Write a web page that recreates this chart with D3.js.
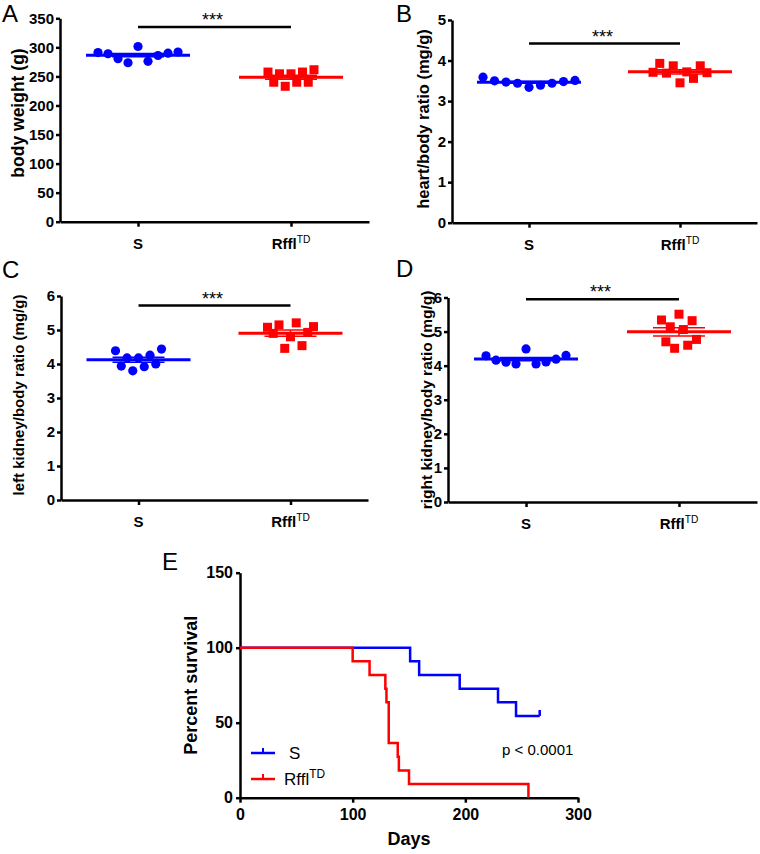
<!DOCTYPE html>
<html>
<head>
<meta charset="utf-8">
<script src="https://cdn.jsdelivr.net/npm/d3@7"></script>
<style>
  html, body { margin: 0; padding: 0; background: #fff; }
  svg { display: block; }
  text { font-family: "Liberation Sans", Arial, sans-serif; }
</style>
</head>
<body>
<svg id="chart" width="760" height="854"></svg>
<script>
// ---------------- DATA ----------------
const categories = ["S", "Rffl"];
const categorySup = ["", "TD"];

const bodyWeightS = [291, 289, 280.5, 273.5, 301.5, 276, 286, 290, 292];
const bodyWeightR = [257.5, 240, 254.5, 233, 254.5, 240, 257.5, 240, 261.5];

const heartRatioS = [3.59, 3.50, 3.47, 3.44, 3.34, 3.39, 3.44, 3.48, 3.51];
const heartRatioR = [3.71, 3.93, 3.69, 3.87, 3.45, 3.72, 3.56, 3.87, 3.70];

const leftKidneyS = [4.39, 3.94, 4.18, 3.80, 4.18, 3.92, 4.26, 4.00, 4.44];
const leftKidneyR = [5.08, 4.90, 5.15, 4.46, 4.80, 5.21, 4.54, 4.93, 5.10];

const rightKidneyS = [4.29, 4.16, 4.10, 4.05, 4.49, 4.05, 4.11, 4.19, 4.30];
const rightKidneyR = [5.34, 4.70, 5.14, 4.51, 5.51, 5.06, 4.60, 5.32, 4.77];

const yTicksA = [0, 50, 100, 150, 200, 250, 300, 350];
const yTicksB = [0, 1, 2, 3, 4, 5];
const yTicksCD = [0, 1, 2, 3, 4, 5, 6];

const sigLevels = [335, 4.42, 5.72, 5.95];   // y value of significance bar per panel
const sigLabel = "***";

// Survival (Kaplan-Meier) steps
const survDaysS = [0, 151, 159, 195, 229, 245, 266];
const survPctS  = [100, 90.9, 81.8, 72.7, 63.6, 54.5, 54.5];
const survDaysR = [0, 100, 115, 129, 130, 132, 140, 141, 150, 256];
const survPctR  = [100, 90.9, 81.8, 72.7, 63.6, 36.4, 27.3, 18.2, 9.1, 0];
const survXTicks = [0, 100, 200, 300];
const survYTicks = [0, 50, 100, 150];
const pValueText = "p < 0.0001";

// ---------------- STYLE ----------------
const BLUE = "#0000ff", RED = "#ff0000";
const FONT = '"Liberation Sans", Arial, sans-serif';
const svg = d3.select("#chart");
svg.append("rect").attr("width", 760).attr("height", 854).attr("fill", "#fff");

function styleAxis(sel, fontSize) {
  sel.select(".domain").attr("stroke", "#000").attr("stroke-width", 2.5);
  sel.selectAll(".tick line").attr("stroke", "#000").attr("stroke-width", 2.5);
  sel.selectAll(".tick text").attr("font-family", FONT).attr("font-weight", "bold")
     .attr("font-size", fontSize).attr("fill", "#000");
}

function catLabel(sel, i) {
  sel.text(categories[i]);
  if (categorySup[i]) {
    sel.append("tspan").attr("dy", "-0.55em").attr("font-size", "0.68em")
       .attr("font-weight", "normal").text(categorySup[i]);
  }
}

function scatterPanel(cfg) {
  const g = svg.append("g");
  const y = d3.scaleLinear()
    .domain([cfg.ticks[0], cfg.ticks[cfg.ticks.length - 1]])
    .range([cfg.yBot, cfg.yTop]);
  const x = d3.scalePoint().domain(categories).range([cfg.x0, cfg.x1]).padding(0.51);

  // y axis
  const ya = g.append("g").attr("transform", `translate(${cfg.x0},0)`)
    .call(d3.axisLeft(y).tickValues(cfg.ticks).tickFormat(d3.format("d"))
      .tickSize(4).tickPadding(2).tickSizeOuter(0));
  styleAxis(ya, 15);

  // x axis
  const xa = g.append("g").attr("transform", `translate(0,${cfg.yBot})`)
    .call(d3.axisBottom(x).tickSize(5).tickSizeOuter(0).tickFormat(""));
  styleAxis(xa, 15);
  categories.forEach((c, i) => {
    g.append("text").attr("x", x(c)).attr("y", cfg.yBot + 27)
      .attr("text-anchor", "middle").attr("font-size", 15).attr("font-weight", "bold")
      .attr("fill", "#000").call(s => catLabel(s, i));
  });

  // y title
  g.append("text")
    .attr("transform", `translate(${cfg.titleX},${cfg.titleY}) rotate(-90)`)
    .attr("text-anchor", "middle").attr("font-size", cfg.titleSize).attr("font-weight", "bold")
    .text(cfg.title);

  // panel letter
  g.append("text").attr("x", cfg.letterX).attr("y", cfg.letterY)
    .attr("font-size", 24).attr("fill", "#000").text(cfg.letter);

  // groups
  [cfg.dataS, cfg.dataR].forEach((arr, gi) => {
    const cat = categories[gi];
    const cx = x(cat);
    const color = gi === 0 ? BLUE : RED;
    const w = cfg.spread[gi];
    const n = arr.length;
    const px = i => cx + (i / (n - 1) - 0.5) * w;
    if (gi === 0) {
      g.selectAll(null).data(arr).enter().append("circle")
        .attr("cx", (d, i) => px(i)).attr("cy", d => y(d)).attr("r", 4.6).attr("fill", color);
    } else {
      g.selectAll(null).data(arr).enter().append("rect")
        .attr("x", (d, i) => px(i) - 4.5).attr("y", d => y(d) - 4.5)
        .attr("width", 9).attr("height", 9).attr("fill", color);
    }
    const m = d3.mean(arr);
    const sem = d3.deviation(arr) / Math.sqrt(n);
    g.append("line").attr("x1", cx - 52).attr("x2", cx + 52)
      .attr("y1", y(m)).attr("y2", y(m)).attr("stroke", color).attr("stroke-width", 3);
    [m - sem, m + sem].forEach(v => {
      g.append("line").attr("x1", cx - 26).attr("x2", cx + 26)
        .attr("y1", y(v)).attr("y2", y(v)).attr("stroke", color).attr("stroke-width", 1.5);
    });
    g.append("line").attr("x1", cx).attr("x2", cx)
      .attr("y1", y(m - sem)).attr("y2", y(m + sem)).attr("stroke", color).attr("stroke-width", 1.5);
  });

  // significance bar
  const sy = y(cfg.sig);
  g.append("line").attr("x1", x(categories[0])).attr("x2", x(categories[1]))
    .attr("y1", sy).attr("y2", sy).attr("stroke", "#000").attr("stroke-width", 2.5);
  g.append("text").attr("x", (x(categories[0]) + x(categories[1])) / 2 - 2).attr("y", sy - 1)
    .attr("text-anchor", "middle").attr("font-size", 18).text(sigLabel);
}

scatterPanel({ letter: "A", letterX: 2, letterY: 22, x0: 60, x1: 369, yTop: 18.3, yBot: 221.7,
  ticks: yTicksA, dataS: bodyWeightS, dataR: bodyWeightR, spread: [80, 46], sig: sigLevels[0],
  title: "body weight (g)", titleX: 24, titleY: 113, titleSize: 17.5 });
scatterPanel({ letter: "B", letterX: 396, letterY: 22, x0: 452, x1: 757, yTop: 20, yBot: 222.7,
  ticks: yTicksB, dataS: heartRatioS, dataR: heartRatioR, spread: [92, 54], sig: sigLevels[1],
  title: "heart/body ratio (mg/g)", titleX: 429, titleY: 119, titleSize: 16.5 });
scatterPanel({ letter: "C", letterX: 2, letterY: 278, x0: 61, x1: 368, yTop: 296, yBot: 500,
  ticks: yTicksCD, dataS: leftKidneyS, dataR: leftKidneyR, spread: [46, 46], sig: sigLevels[2],
  title: "left kidney/body ratio (mg/g)", titleX: 24, titleY: 395, titleSize: 15 });
scatterPanel({ letter: "D", letterX: 396, letterY: 277, x0: 448, x1: 757, yTop: 297.5, yBot: 502,
  ticks: yTicksCD, dataS: rightKidneyS, dataR: rightKidneyR, spread: [80, 35], sig: sigLevels[3],
  title: "right kidney/body ratio (mg/g)", titleX: 432, titleY: 400, titleSize: 15.5 });

// ---------------- PANEL E ----------------
(function () {
  const g = svg.append("g");
  const x = d3.scaleLinear().domain([0, 300]).range([240, 578]);
  const y = d3.scaleLinear().domain([0, 150]).range([797.7, 572.7]);

  const xa = g.append("g").attr("transform", `translate(0,${y(0)})`)
    .call(d3.axisBottom(x).tickValues(survXTicks).tickSize(5).tickPadding(6).tickSizeOuter(0));
  styleAxis(xa, 16);
  const ya = g.append("g").attr("transform", `translate(${x(0)},0)`)
    .call(d3.axisLeft(y).tickValues(survYTicks).tickSize(4).tickPadding(3).tickSizeOuter(0));
  styleAxis(ya, 16);

  g.append("text").attr("x", 409).attr("y", 845).attr("text-anchor", "middle")
    .attr("font-size", 18).attr("font-weight", "bold").text("Days");
  g.append("text").attr("transform", `translate(197,${(y(0) + y(150)) / 2}) rotate(-90)`)
    .attr("text-anchor", "middle").attr("font-size", 18).attr("font-weight", "bold")
    .text("Percent survival");
  g.append("text").attr("x", 162).attr("y", 570).attr("font-size", 24).text("E");

  const line = d3.line().x(d => x(d[0])).y(d => y(d[1])).curve(d3.curveStepAfter);
  const sPts = survDaysS.map((d, i) => [d, survPctS[i]]);
  const rPts = survDaysR.map((d, i) => [d, survPctR[i]]);
  g.append("path").attr("d", line(sPts)).attr("fill", "none").attr("stroke", BLUE).attr("stroke-width", 2.5);
  g.append("path").attr("d", line(rPts)).attr("fill", "none").attr("stroke", RED).attr("stroke-width", 2.5);
  // censor tick at end of S
  const last = sPts[sPts.length - 1];
  g.append("line").attr("x1", x(last[0])).attr("x2", x(last[0]))
    .attr("y1", y(last[1])).attr("y2", y(last[1]) - 6).attr("stroke", BLUE).attr("stroke-width", 2.5);

  // legend
  [[BLUE, 753, 0], [RED, 779, 1]].forEach(([c, ly, i]) => {
    g.append("line").attr("x1", 251).attr("x2", 275).attr("y1", ly).attr("y2", ly)
      .attr("stroke", c).attr("stroke-width", 2.5);
    g.append("line").attr("x1", 263).attr("x2", 263).attr("y1", ly).attr("y2", ly - 5)
      .attr("stroke", c).attr("stroke-width", 2);
    const t = g.append("text").attr("x", i === 0 ? 289 : 284).attr("y", ly + 6).attr("font-size", 17);
    t.text(categories[i]);
    if (categorySup[i]) t.append("tspan").attr("dy", "-0.6em").attr("font-size", "0.7em").text(categorySup[i]);
  });

  g.append("text").attr("x", 502).attr("y", 755).attr("font-size", 15).text(pValueText);
})();
</script>
</body>
</html>
